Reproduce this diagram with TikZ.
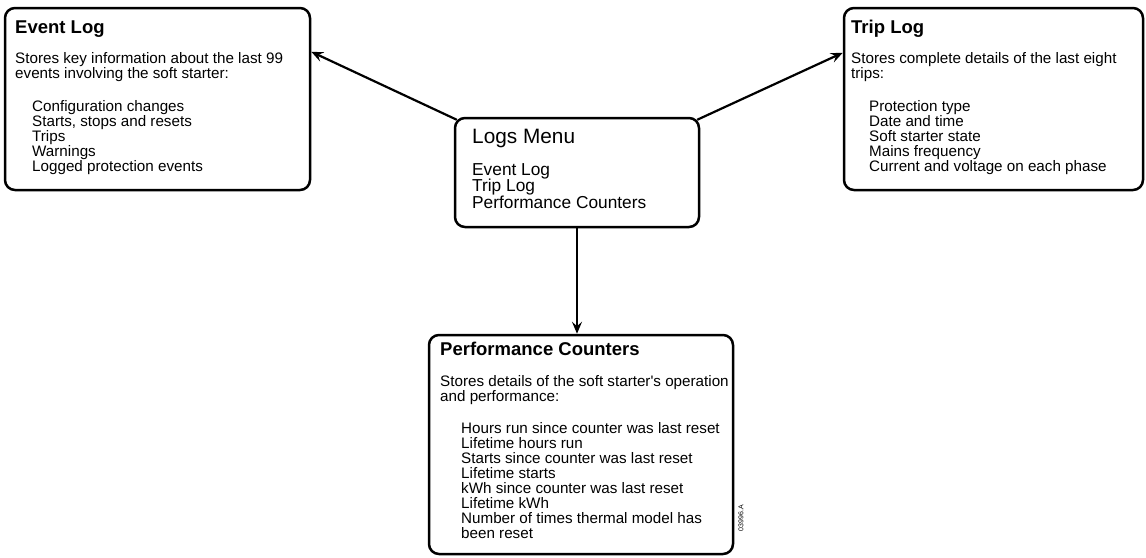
\documentclass[tikz,border=0pt]{standalone}
\usepackage{fontspec}
\setmainfont{Liberation Sans}
\usetikzlibrary{arrows.meta}
\tikzset{
  box/.style={draw, line width=2.5pt, rounded corners=10pt, inner sep=0pt, fill=white},
  ttl/.style={anchor=base west, inner sep=0pt, font=\fontsize{18.5}{20}\selectfont\bfseries},
  body/.style={anchor=base west, inner sep=0pt, align=left, font=\fontsize{15.2}{15}\selectfont},
  mttl/.style={anchor=base west, inner sep=0pt, font=\fontsize{20.8}{22}\selectfont},
  mbody/.style={anchor=base west, inner sep=0pt, align=left, font=\fontsize{17.3}{16.5}\selectfont},
  conn/.style={line width=2.2pt, -{Stealth[length=12pt,width=10pt,inset=4.5pt]}},
}
\begin{document}
\begin{tikzpicture}[x=1pt,y=-1pt]
\useasboundingbox (0,0) rectangle (1146,557);
% boxes
\node[box, minimum width=305pt, minimum height=182pt] (event) at (157.5,99) {};
\node[box, minimum width=299pt, minimum height=182pt] (trip) at (993.5,99) {};
\node[box, minimum width=244pt, minimum height=109pt] (menu) at (577,172.5) {};
\node[box, minimum width=304pt, minimum height=219pt] (perf) at (581,444.5) {};
% event log text (base anchor = baseline of last line)
\node[ttl] (evt) at (15,33) {Event Log};
\node[body] (evd) at (15,78) {Stores key information about the last 99\\events involving the soft starter:};
\node[body] (evi) at (32,171) {Configuration changes\\Starts, stops and resets\\Trips\\Warnings\\Logged protection events};
% trip log text
\node[ttl] (trt) at (851,33) {Trip Log};
\node[body] (trd) at (851,78) {Stores complete details of the last eight\\trips:};
\node[body] (tri) at (869,171) {Protection type\\Date and time\\Soft starter state\\Mains frequency\\Current and voltage on each phase};
% menu text
\node[mttl] (mt) at (472,143) {Logs Menu};
\node[mbody] (mi) at (472,208) {Event Log\\Trip Log\\Performance Counters};
% performance text
\node[ttl] (pft) at (440,355) {Performance Counters};
\node[body] (pfd) at (440,401.5) {Stores details of the soft starter\textquotesingle s operation\\and performance:};
\node[body] (pfi) at (461,538) {Hours run since counter was last reset\\Lifetime hours run\\Starts since counter was last reset\\Lifetime starts\\kWh since counter was last reset\\Lifetime kWh\\Number of times thermal model has\\been reset};
% id
\node[inner sep=0pt, rotate=90, font=\fontsize{7}{8}\selectfont] (id) at (741,518) {03996.A};
% connectors
\draw[conn] ([shift={(3pt,-3pt)}]menu.north west) -- ([yshift=-45pt]event.north east);
\draw[conn] ([shift={(-3pt,-3pt)}]menu.north east) -- ([yshift=-46pt]trip.north west);
\draw[conn] (menu.south) -- (menu.south |- perf.north);
\end{tikzpicture}
\end{document}
